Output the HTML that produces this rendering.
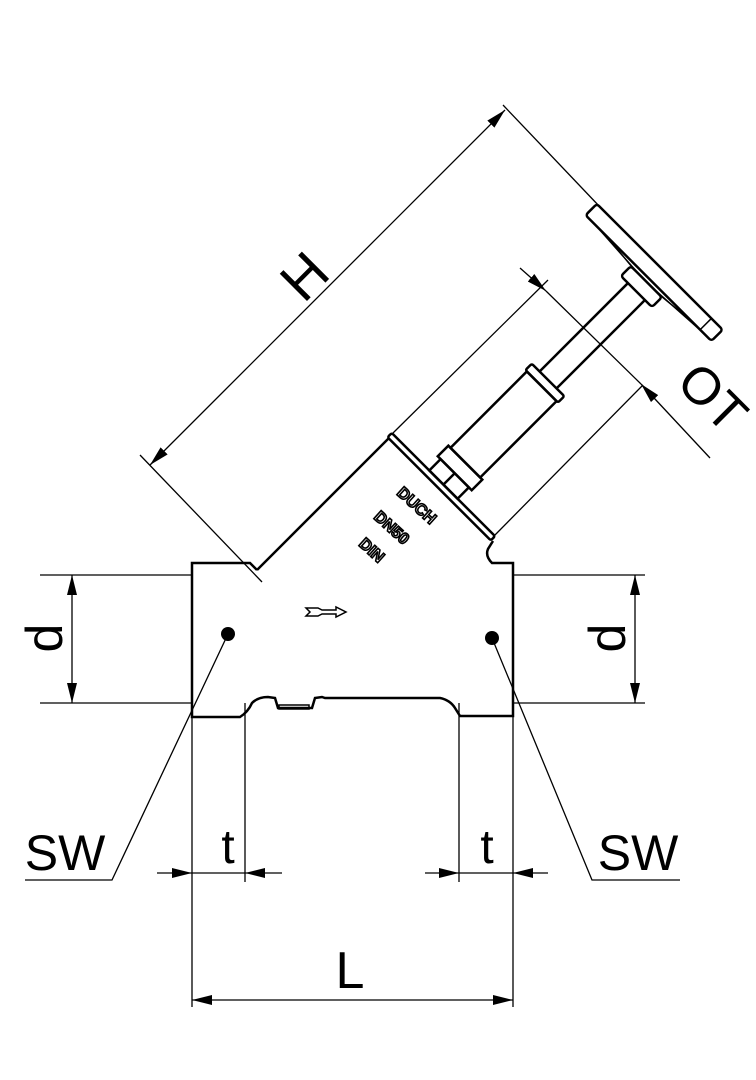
<!DOCTYPE html>
<html><head><style>html,body{margin:0;padding:0;background:#fff}svg{display:block}</style></head>
<body>
<svg width="756" height="1080" viewBox="0 0 756 1080" xmlns="http://www.w3.org/2000/svg" font-family="Liberation Sans, sans-serif">
<defs>
<marker id="a" viewBox="0 0 20 10" refX="20" refY="5" markerWidth="20" markerHeight="10" markerUnits="userSpaceOnUse" orient="auto-start-reverse"><path d="M0,0 L20,5 L0,10 z" fill="#000"/></marker>
</defs>
<g stroke="#000" fill="none">
<path d="M257,570 L250,563 L192,563 L192,717 L240,717 Q248,712 252,703 Q258,697 268,697 L275,698 L278,708 L312,708 L315,698 L322,697 L325,698 L440,698 Q450,700 455,708 L460,716 L513,716 L513,563 L492,563 Q485,556 488,549 L493,541" stroke-width="2.5"/>
<line x1="257" y1="570" x2="389" y2="438" stroke-width="2.5"/>
<rect x="279" y="705" width="30" height="4" stroke-width="1.5"/>
<g transform="translate(442,486) rotate(-45)" stroke-width="2.5">
<rect x="-4" y="-73" width="6" height="146" rx="2"/>
<line x1="2" y1="-72" x2="2" y2="72" stroke-width="1.2"/>
<rect x="2" y="-20" width="16" height="40"/>
<line x1="2" y1="0" x2="18" y2="0"/>
<rect x="18" y="-24" width="15" height="48"/>
<rect x="33" y="-21" width="108" height="42"/>
<rect x="141" y="-23" width="9" height="46" rx="2"/>
<line x1="150" y1="-12" x2="275" y2="-12"/>
<line x1="150" y1="12" x2="275" y2="12"/>
<rect x="275" y="-22" width="14" height="44" rx="3"/>
<rect x="293" y="-90" width="16" height="178" rx="3"/>
<path d="M289,-18 L293,-60 M289,-10 L293,-75 M289,18 L293,60 M289,10 L293,75" stroke-width="1.5"/>
<line x1="293" y1="72" x2="309" y2="72" stroke-width="1.5"/>
</g>
<g stroke-width="1.3">
<line x1="262" y1="582" x2="140" y2="455"/>
<line x1="600" y1="207" x2="503" y2="105"/>
<line x1="150" y1="465" x2="505" y2="110" marker-start="url(#a)" marker-end="url(#a)"/>
<line x1="393" y1="433" x2="548" y2="280"/>
<line x1="493" y1="537" x2="643" y2="385"/>
<line x1="520" y1="268" x2="546" y2="291" marker-end="url(#a)"/>
<line x1="546" y1="291" x2="641" y2="384"/>
<line x1="710" y1="458" x2="641" y2="384" marker-end="url(#a)"/>
<line x1="40" y1="575" x2="192" y2="575"/>
<line x1="40" y1="703" x2="192" y2="703"/>
<line x1="72" y1="575" x2="72" y2="703" marker-start="url(#a)" marker-end="url(#a)"/>
<line x1="513" y1="575" x2="645" y2="575"/>
<line x1="513" y1="703" x2="645" y2="703"/>
<line x1="635" y1="575" x2="635" y2="703" marker-start="url(#a)" marker-end="url(#a)"/>
<line x1="192" y1="717" x2="192" y2="1007"/>
<line x1="245" y1="703" x2="245" y2="882"/>
<line x1="459" y1="703" x2="459" y2="882"/>
<line x1="513" y1="716" x2="513" y2="1007"/>
<line x1="157" y1="873" x2="192" y2="873" marker-end="url(#a)"/>
<line x1="192" y1="873" x2="245" y2="873"/>
<line x1="282" y1="873" x2="245" y2="873" marker-end="url(#a)"/>
<line x1="425" y1="873" x2="459" y2="873" marker-end="url(#a)"/>
<line x1="459" y1="873" x2="513" y2="873"/>
<line x1="548" y1="873" x2="513" y2="873" marker-end="url(#a)"/>
<line x1="192" y1="1000" x2="513" y2="1000" marker-start="url(#a)" marker-end="url(#a)"/>
<polyline points="228,634 112,880 25,880"/>
<polyline points="492,638 592,880 680,880"/>
</g>
<path d="M306,608 L318,608 L322,610 L336,610 L336,607 L346,612 L336,617 L336,614 L322,614 L318,616 L306,616 L310,612 z" fill="none" stroke="#000" stroke-width="1.5"/>
</g>
<circle cx="228" cy="634" r="7" fill="#000"/>
<circle cx="492" cy="638" r="7" fill="#000"/>
<g fill="#000">
<text x="0" y="0" font-size="56" transform="translate(318,290) rotate(-45)" text-anchor="middle">H</text>
<text x="0" y="0" font-size="52" transform="translate(700,410) rotate(45)" text-anchor="middle">OT</text>
<text x="0" y="0" font-size="52" transform="translate(62,638) rotate(-90)" text-anchor="middle">d</text>
<text x="0" y="0" font-size="52" transform="translate(625,638) rotate(-90)" text-anchor="middle">d</text>
<text x="228" y="863" font-size="48" text-anchor="middle">t</text>
<text x="487" y="863" font-size="48" text-anchor="middle">t</text>
<text x="350" y="988" font-size="52" text-anchor="middle">L</text>
<text x="65" y="870" font-size="50" text-anchor="middle">SW</text>
<text x="638" y="870" font-size="50" text-anchor="middle">SW</text>
</g>
<g font-size="16" font-weight="bold" fill="#fff" stroke="#000" stroke-width="1.6">
<text transform="translate(396,494) rotate(42)">DUCH</text>
<text transform="translate(373,518) rotate(42)">DN50</text>
<text transform="translate(358,545) rotate(42)">DIN</text>
</g>
</svg>
</body></html>
